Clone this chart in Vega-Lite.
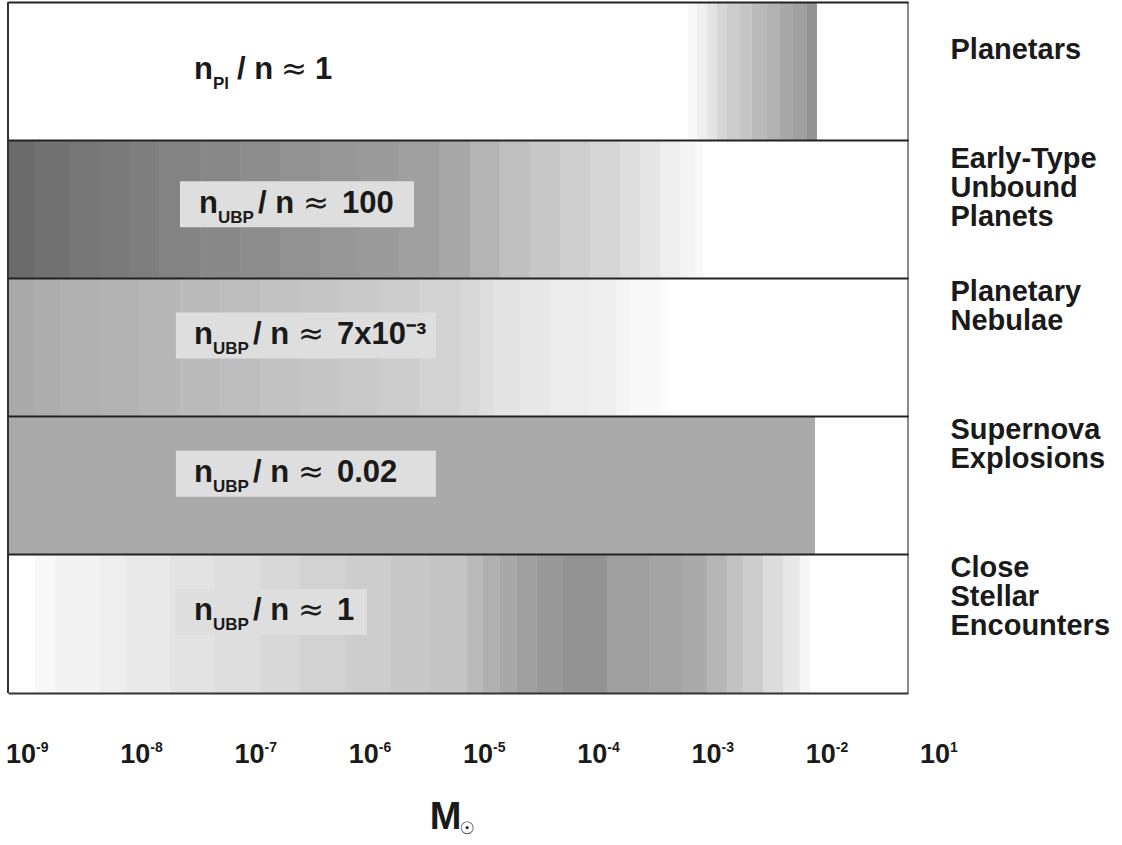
{
  "$schema": "https://vega.github.io/schema/vega-lite/v6.json",
  "width": 900,
  "height": 691,
  "autosize": {"type": "none"},
  "padding": {"left": 8, "top": 2, "right": 214, "bottom": 152},
  "background": "white",
  "config": {"view": {"stroke": null}},
  "datasets": {
    "stripes": [
      {"src": "Planetars", "lo": -3.206, "hi": -3.127, "v": 248},
      {"src": "Planetars", "lo": -3.127, "hi": -3.040, "v": 239},
      {"src": "Planetars", "lo": -3.040, "hi": -2.952, "v": 228},
      {"src": "Planetars", "lo": -2.952, "hi": -2.865, "v": 214},
      {"src": "Planetars", "lo": -2.865, "hi": -2.751, "v": 204},
      {"src": "Planetars", "lo": -2.751, "hi": -2.646, "v": 197},
      {"src": "Planetars", "lo": -2.646, "hi": -2.514, "v": 186},
      {"src": "Planetars", "lo": -2.514, "hi": -2.401, "v": 178},
      {"src": "Planetars", "lo": -2.401, "hi": -2.287, "v": 168},
      {"src": "Planetars", "lo": -2.287, "hi": -2.164, "v": 160},
      {"src": "Planetars", "lo": -2.164, "hi": -2.077, "v": 147},
      {"src": "Early-Type Unbound Planets", "lo": -9.158, "hi": -8.922, "v": 107},
      {"src": "Early-Type Unbound Planets", "lo": -8.922, "hi": -8.615, "v": 113},
      {"src": "Early-Type Unbound Planets", "lo": -8.615, "hi": -8.353, "v": 118},
      {"src": "Early-Type Unbound Planets", "lo": -8.353, "hi": -8.090, "v": 122},
      {"src": "Early-Type Unbound Planets", "lo": -8.090, "hi": -7.828, "v": 126},
      {"src": "Early-Type Unbound Planets", "lo": -7.828, "hi": -7.477, "v": 131},
      {"src": "Early-Type Unbound Planets", "lo": -7.477, "hi": -7.127, "v": 136},
      {"src": "Early-Type Unbound Planets", "lo": -7.127, "hi": -6.777, "v": 141},
      {"src": "Early-Type Unbound Planets", "lo": -6.777, "hi": -6.427, "v": 146},
      {"src": "Early-Type Unbound Planets", "lo": -6.427, "hi": -6.077, "v": 151},
      {"src": "Early-Type Unbound Planets", "lo": -6.077, "hi": -5.727, "v": 155},
      {"src": "Early-Type Unbound Planets", "lo": -5.727, "hi": -5.377, "v": 160},
      {"src": "Early-Type Unbound Planets", "lo": -5.377, "hi": -5.114, "v": 168},
      {"src": "Early-Type Unbound Planets", "lo": -5.114, "hi": -4.852, "v": 180},
      {"src": "Early-Type Unbound Planets", "lo": -4.852, "hi": -4.589, "v": 192},
      {"src": "Early-Type Unbound Planets", "lo": -4.589, "hi": -4.326, "v": 200},
      {"src": "Early-Type Unbound Planets", "lo": -4.326, "hi": -4.064, "v": 206},
      {"src": "Early-Type Unbound Planets", "lo": -4.064, "hi": -3.801, "v": 214},
      {"src": "Early-Type Unbound Planets", "lo": -3.801, "hi": -3.626, "v": 222},
      {"src": "Early-Type Unbound Planets", "lo": -3.626, "hi": -3.451, "v": 230},
      {"src": "Early-Type Unbound Planets", "lo": -3.451, "hi": -3.276, "v": 238},
      {"src": "Early-Type Unbound Planets", "lo": -3.276, "hi": -3.145, "v": 245},
      {"src": "Early-Type Unbound Planets", "lo": -3.145, "hi": -3.075, "v": 250},
      {"src": "Planetary Nebulae", "lo": -9.158, "hi": -8.922, "v": 170},
      {"src": "Planetary Nebulae", "lo": -8.922, "hi": -8.703, "v": 173},
      {"src": "Planetary Nebulae", "lo": -8.703, "hi": -8.353, "v": 176},
      {"src": "Planetary Nebulae", "lo": -8.353, "hi": -8.003, "v": 179},
      {"src": "Planetary Nebulae", "lo": -8.003, "hi": -7.652, "v": 183},
      {"src": "Planetary Nebulae", "lo": -7.652, "hi": -7.302, "v": 187},
      {"src": "Planetary Nebulae", "lo": -7.302, "hi": -6.952, "v": 190},
      {"src": "Planetary Nebulae", "lo": -6.952, "hi": -6.602, "v": 194},
      {"src": "Planetary Nebulae", "lo": -6.602, "hi": -6.252, "v": 198},
      {"src": "Planetary Nebulae", "lo": -6.252, "hi": -5.902, "v": 201},
      {"src": "Planetary Nebulae", "lo": -5.902, "hi": -5.552, "v": 205},
      {"src": "Planetary Nebulae", "lo": -5.552, "hi": -5.202, "v": 210},
      {"src": "Planetary Nebulae", "lo": -5.202, "hi": -5.027, "v": 216},
      {"src": "Planetary Nebulae", "lo": -5.027, "hi": -4.904, "v": 222},
      {"src": "Planetary Nebulae", "lo": -4.904, "hi": -4.676, "v": 228},
      {"src": "Planetary Nebulae", "lo": -4.676, "hi": -4.414, "v": 232},
      {"src": "Planetary Nebulae", "lo": -4.414, "hi": -4.064, "v": 236},
      {"src": "Planetary Nebulae", "lo": -4.064, "hi": -3.836, "v": 239},
      {"src": "Planetary Nebulae", "lo": -3.836, "hi": -3.714, "v": 244},
      {"src": "Planetary Nebulae", "lo": -3.714, "hi": -3.451, "v": 248},
      {"src": "Planetary Nebulae", "lo": -3.451, "hi": -3.364, "v": 252},
      {"src": "Supernova Explosions", "lo": -9.158, "hi": -2.094, "v": 170},
      {"src": "Close Stellar Encounters", "lo": -8.922, "hi": -8.747, "v": 248},
      {"src": "Close Stellar Encounters", "lo": -8.747, "hi": -8.353, "v": 243},
      {"src": "Close Stellar Encounters", "lo": -8.353, "hi": -8.134, "v": 238},
      {"src": "Close Stellar Encounters", "lo": -8.134, "hi": -7.740, "v": 233},
      {"src": "Close Stellar Encounters", "lo": -7.740, "hi": -7.346, "v": 227},
      {"src": "Close Stellar Encounters", "lo": -7.346, "hi": -6.952, "v": 222},
      {"src": "Close Stellar Encounters", "lo": -6.952, "hi": -6.602, "v": 216},
      {"src": "Close Stellar Encounters", "lo": -6.602, "hi": -6.208, "v": 210},
      {"src": "Close Stellar Encounters", "lo": -6.208, "hi": -5.814, "v": 205},
      {"src": "Close Stellar Encounters", "lo": -5.814, "hi": -5.464, "v": 200},
      {"src": "Close Stellar Encounters", "lo": -5.464, "hi": -5.140, "v": 196},
      {"src": "Close Stellar Encounters", "lo": -5.140, "hi": -5.000, "v": 186},
      {"src": "Close Stellar Encounters", "lo": -5.000, "hi": -4.852, "v": 176},
      {"src": "Close Stellar Encounters", "lo": -4.852, "hi": -4.703, "v": 168},
      {"src": "Close Stellar Encounters", "lo": -4.703, "hi": -4.528, "v": 160},
      {"src": "Close Stellar Encounters", "lo": -4.528, "hi": -4.300, "v": 153},
      {"src": "Close Stellar Encounters", "lo": -4.300, "hi": -3.915, "v": 147},
      {"src": "Close Stellar Encounters", "lo": -3.915, "hi": -3.539, "v": 159},
      {"src": "Close Stellar Encounters", "lo": -3.539, "hi": -3.250, "v": 164},
      {"src": "Close Stellar Encounters", "lo": -3.250, "hi": -3.040, "v": 170},
      {"src": "Close Stellar Encounters", "lo": -3.040, "hi": -2.865, "v": 182},
      {"src": "Close Stellar Encounters", "lo": -2.865, "hi": -2.725, "v": 194},
      {"src": "Close Stellar Encounters", "lo": -2.725, "hi": -2.550, "v": 205},
      {"src": "Close Stellar Encounters", "lo": -2.550, "hi": -2.374, "v": 220},
      {"src": "Close Stellar Encounters", "lo": -2.374, "hi": -2.226, "v": 232},
      {"src": "Close Stellar Encounters", "lo": -2.226, "hi": -2.138, "v": 246}
    ],
    "labels": [
      {"src": "Planetars", "sub": "Pl", "val": "1"},
      {"src": "Early-Type Unbound Planets", "sub": "UBP", "val": "100"},
      {"src": "Planetary Nebulae", "sub": "UBP", "val": "7x10⁻³"},
      {"src": "Supernova Explosions", "sub": "UBP", "val": "0.02"},
      {"src": "Close Stellar Encounters", "sub": "UBP", "val": "1"}
    ],
    "ticks": [
      {"e": -9, "sup": "-9"},
      {"e": -8, "sup": "-8"},
      {"e": -7, "sup": "-7"},
      {"e": -6, "sup": "-6"},
      {"e": -5, "sup": "-5"},
      {"e": -4, "sup": "-4"},
      {"e": -3, "sup": "-3"},
      {"e": -2, "sup": "-2"},
      {"e": -1, "sup": "1"}
    ]
  },
  "layer": [
    {
      "encoding": {
        "y": {
          "field": "src", "type": "nominal",
          "sort": ["Planetars", "Early-Type Unbound Planets", "Planetary Nebulae", "Supernova Explosions", "Close Stellar Encounters"],
          "scale": {"paddingInner": 0, "paddingOuter": 0},
          "axis": {
            "orient": "right", "title": null, "domain": false, "ticks": false,
            "grid": true, "gridColor": "#222222", "gridWidth": 2, "bandPosition": 0, "zindex": 1,
            "labelExpr": "split(datum.value, ' ')",
            "labelFont": "Liberation Sans", "labelFontSize": 29, "labelFontWeight": "bold", "labelColor": "#1a1a1a",
            "labelLineHeight": 29, "labelAlign": "left", "labelBaseline": "top", "labelPadding": 42,
            "labelOffset": {"condition": [
              {"test": "datum.value === 'Planetars'", "value": -35},
              {"test": "datum.value === 'Early-Type Unbound Planets'", "value": -64}
            ], "value": -70},
            "labelLimit": 0
          }
        }
      },
      "layer": [
        {
          "data": {"name": "stripes"},
          "mark": {"type": "rect", "strokeWidth": 0},
          "encoding": {
            "x": {
              "field": "lo", "type": "quantitative",
              "scale": {"domain": [-9.158, -1.28], "nice": false, "zero": false},
              "axis": {
                "values": [-9, -8, -7, -6, -5, -4, -3, -2],
                "labels": true, "labelExpr": "''", "grid": false, "ticks": false,
                "domain": true, "domainColor": "#333333", "domainWidth": 2, "zindex": 1,
                "title": "M", "titleFont": "Liberation Sans", "titleFontSize": 38, "titleFontWeight": "bold", "titleColor": "#1a1a1a",
                "titleBaseline": "alphabetic", "titleAlign": "center", "titleX": 437, "titleY": 135
              }
            },
            "x2": {"field": "hi"},
            "color": {"field": "v", "type": "quantitative", "scale": {"domain": [0, 255], "range": ["#000000", "#ffffff"], "interpolate": "rgb"}, "legend": null}
          }
        },
        {
          "data": {"name": "labels"},
          "transform": [{"filter": "datum.src === 'Planetars'"}],
          "encoding": {"x": {"datum": -7.53, "type": "quantitative"}},
          "layer": [
            {"mark": {"type": "text", "text": "n", "align": "left", "baseline": "alphabetic", "dy": 8, "font": "Liberation Sans", "fontSize": 31, "fontWeight": "bold", "color": "#1a1a1a"}},
            {"mark": {"type": "text", "align": "left", "baseline": "alphabetic", "dx": 19, "dy": 18, "font": "Liberation Sans", "fontSize": 17, "fontWeight": "bold", "color": "#1a1a1a"}, "encoding": {"text": {"field": "sub"}}},
            {"mark": {"type": "text", "text": "/ n", "align": "left", "baseline": "alphabetic", "dx": 43, "dy": 8, "font": "Liberation Sans", "fontSize": 31, "fontWeight": "bold", "color": "#1a1a1a"}},
            {"mark": {"type": "text", "text": "≈", "align": "left", "baseline": "alphabetic", "dx": 87, "dy": 8, "font": "DejaVu Sans", "fontSize": 31, "color": "#1a1a1a"}},
            {"mark": {"type": "text", "align": "left", "baseline": "alphabetic", "dx": 121, "dy": 8, "font": "Liberation Sans", "fontSize": 31, "fontWeight": "bold", "color": "#1a1a1a"}, "encoding": {"text": {"field": "val"}}}
          ]
        },
        {
          "data": {"name": "labels"},
          "transform": [{"filter": "datum.src === 'Early-Type Unbound Planets'"}],
          "layer": [
            {"mark": {"type": "rect", "height": 46, "yOffset": -5, "color": "#dedede"}, "encoding": {"x": {"datum": -7.653, "type": "quantitative"}, "x2": {"datum": -5.604}}},
            {
              "encoding": {"x": {"datum": -7.486, "type": "quantitative"}},
              "layer": [
                {"mark": {"type": "text", "text": "n", "align": "left", "baseline": "alphabetic", "dy": 3.5, "font": "Liberation Sans", "fontSize": 31, "fontWeight": "bold", "color": "#1a1a1a"}},
                {"mark": {"type": "text", "align": "left", "baseline": "alphabetic", "dx": 19, "dy": 13.5, "font": "Liberation Sans", "fontSize": 17, "fontWeight": "bold", "color": "#1a1a1a"}, "encoding": {"text": {"field": "sub"}}},
                {"mark": {"type": "text", "text": "/ n", "align": "left", "baseline": "alphabetic", "dx": 59, "dy": 3.5, "font": "Liberation Sans", "fontSize": 31, "fontWeight": "bold", "color": "#1a1a1a"}},
                {"mark": {"type": "text", "text": "≈", "align": "left", "baseline": "alphabetic", "dx": 104, "dy": 3.5, "font": "DejaVu Sans", "fontSize": 31, "color": "#1a1a1a"}},
                {"mark": {"type": "text", "align": "left", "baseline": "alphabetic", "dx": 143, "dy": 3.5, "font": "Liberation Sans", "fontSize": 31, "fontWeight": "bold", "color": "#1a1a1a"}, "encoding": {"text": {"field": "val"}}}
              ]
            }
          ]
        },
        {
          "data": {"name": "labels"},
          "transform": [{"filter": "datum.src === 'Planetary Nebulae' || datum.src === 'Supernova Explosions'"}],
          "mark": {"type": "rect", "height": 46, "yOffset": -12, "color": "#dedede"},
          "encoding": {"x": {"datum": -7.688, "type": "quantitative"}, "x2": {"datum": -5.412}}
        },
        {
          "data": {"name": "labels"},
          "transform": [{"filter": "datum.src === 'Close Stellar Encounters'"}],
          "mark": {"type": "rect", "height": 46, "yOffset": -12, "color": "#dedede"},
          "encoding": {"x": {"datum": -7.688, "type": "quantitative"}, "x2": {"datum": -6.016}}
        },
        {
          "data": {"name": "labels"},
          "transform": [{"filter": "datum.src !== 'Planetars' && datum.src !== 'Early-Type Unbound Planets'"}],
          "encoding": {"x": {"datum": -7.53, "type": "quantitative"}},
          "layer": [
            {"mark": {"type": "text", "text": "n", "align": "left", "baseline": "alphabetic", "dy": -4, "font": "Liberation Sans", "fontSize": 31, "fontWeight": "bold", "color": "#1a1a1a"}},
            {"mark": {"type": "text", "align": "left", "baseline": "alphabetic", "dx": 19, "dy": 6, "font": "Liberation Sans", "fontSize": 17, "fontWeight": "bold", "color": "#1a1a1a"}, "encoding": {"text": {"field": "sub"}}},
            {"mark": {"type": "text", "text": "/ n", "align": "left", "baseline": "alphabetic", "dx": 59, "dy": -4, "font": "Liberation Sans", "fontSize": 31, "fontWeight": "bold", "color": "#1a1a1a"}},
            {"mark": {"type": "text", "text": "≈", "align": "left", "baseline": "alphabetic", "dx": 104, "dy": -4, "font": "DejaVu Sans", "fontSize": 31, "color": "#1a1a1a"}},
            {"mark": {"type": "text", "align": "left", "baseline": "alphabetic", "dx": 143, "dy": -4, "font": "Liberation Sans", "fontSize": 31, "fontWeight": "bold", "color": "#1a1a1a"}, "encoding": {"text": {"field": "val"}}}
          ]
        },
        {
          "data": {"name": "ticks"},
          "encoding": {
            "x": {"field": "e", "type": "quantitative"},
            "y": {"datum": "Close Stellar Encounters"}
          },
          "layer": [
            {"mark": {"type": "text", "text": "10", "align": "center", "baseline": "alphabetic", "dx": -5, "dy": 139, "font": "Liberation Sans", "fontSize": 27, "fontWeight": "bold", "color": "#1a1a1a"}},
            {"mark": {"type": "text", "align": "left", "baseline": "alphabetic", "dx": 10, "dy": 128, "font": "Liberation Sans", "fontSize": 14, "fontWeight": "bold", "color": "#1a1a1a"}, "encoding": {"text": {"field": "sup"}}}
          ]
        },
        {
          "data": {"values": [{"sym": "☉"}]},
          "mark": {"type": "text", "align": "center", "baseline": "middle", "dy": 205, "font": "DejaVu Sans", "fontSize": 17, "color": "#1a1a1a"},
          "encoding": {"x": {"datum": -5.14, "type": "quantitative"}, "y": {"datum": "Close Stellar Encounters"}, "text": {"field": "sym"}}
        }
      ]
    },
    {
      "data": {"values": [{}]},
      "mark": {"type": "rule", "color": "#333333", "strokeWidth": 2},
      "encoding": {"x": {"datum": -9.158, "type": "quantitative"}}
    },
    {
      "data": {"values": [{}]},
      "mark": {"type": "rule", "color": "#8a8a8a", "strokeWidth": 2},
      "encoding": {"x": {"datum": -1.28, "type": "quantitative"}}
    }
  ]
}
